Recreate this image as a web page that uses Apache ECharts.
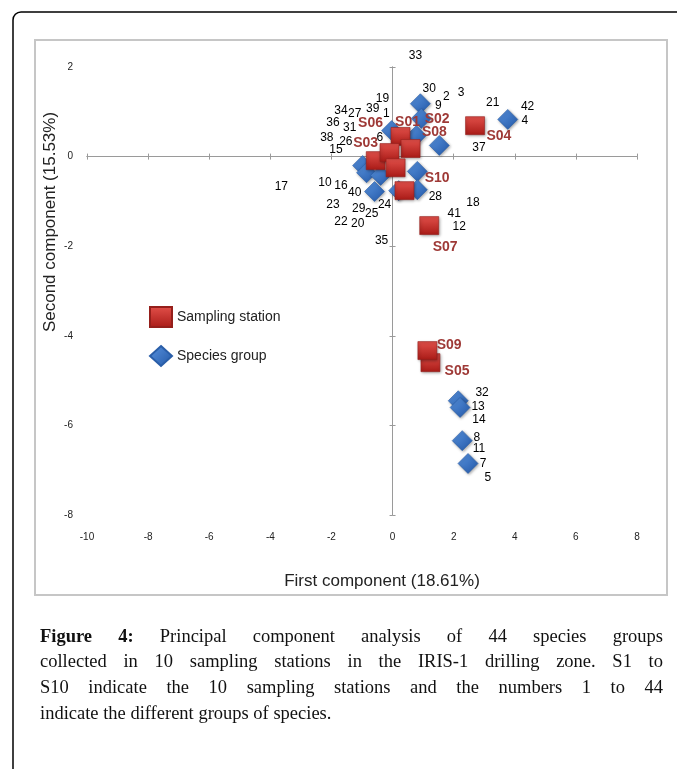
<!DOCTYPE html>
<html><head><meta charset="utf-8">
<script src="https://cdn.jsdelivr.net/npm/echarts@6/dist/echarts.min.js"></script>
<style>html,body{margin:0;padding:0;background:#fff}#c{width:677px;height:769px}</style>
</head><body><div id="c"></div>
<script>
// ---- data ----
const xMin = -10, xMax = 8, xStep = 2;
const yMin = -8, yMax = 2, yStep = 2;

// visible species-group markers (diamonds)
const groupX = [0.91, 0.94, 3.77, -0.03, 0.78, 1.53, -0.98, -0.85, -0.39, 0.81, -0.59, 0.81, 0.20, 2.15, 2.21, 2.28, 2.47];
const groupY = [1.18, 0.85, 0.83, 0.58, 0.47, 0.25, -0.20, -0.36, -0.42, -0.33, -0.78, -0.74, -0.76, -5.45, -5.60, -6.34, -6.85];

// species-group number labels
const speciesIds =    ['1','2','3','4','5','6','7','8','9','10','11','12','13','14','15','16','17','18','19','20','21','22','23','24','25','26','27','28','29','30','31','32','33','34','35','36','37','38','39','40','41','42'];
const speciesLabelX = [-0.20,1.76,2.24,4.33,3.12,-0.42,2.96,2.76,1.50,-2.21,2.83,2.18,2.80,2.83,-1.85,-1.69,-3.64,2.63,-0.33,-1.14,3.28,-1.69,-1.95,-0.26,-0.68,-1.53,-1.24,1.40,-1.11,1.20,-1.40,2.93,0.75,-1.69,-0.36,-1.95,2.83,-2.15,-0.65,-1.24,2.02,4.42];
const speciesLabelY = [0.96,1.34,1.43,0.80,-7.17,0.42,-6.85,-6.27,1.14,-0.58,-6.52,-1.56,-5.58,-5.87,0.16,-0.65,-0.67,-1.03,1.29,-1.50,1.21,-1.45,-1.07,-1.07,-1.27,0.33,0.96,-0.89,-1.16,1.52,0.65,-5.27,2.25,1.03,-1.88,0.76,0.20,0.42,1.07,-0.80,-1.27,1.12];

// sampling stations (squares)
const stationNames  = ['S01','S02','S03','S04','S05','S06','S07','S08','S09','S10'];
const stationX      = [0.26, 0.59, -0.55, 2.70, 1.24, -0.10, 1.20, 0.10, 1.14, 0.39];
const stationY      = [0.45, 0.18, -0.09, 0.69, -4.60, 0.09, -1.54, -0.25, -4.33, -0.76];
const stationLabelX = [0.49, 1.46, -0.88, 3.48, 2.11, -0.72, 1.72, 1.37, 1.85, 1.46];
const stationLabelY = [0.78, 0.83, 0.29, 0.45, -4.78, 0.74, -2.01, 0.54, -4.20, -0.49];

const xTitle = 'First component (18.61%)';
const yTitle = 'Second component (15.53%)';
const legendNames = ['Sampling station', 'Species group'];
const captionLines = [
  'Figure 4: Principal component analysis of 44 species groups',
  'collected in 10 sampling stations in the IRIS-1 drilling zone. S1 to',
  'S10 indicate the 10 sampling stations and the numbers 1 to 44',
  'indicate the different groups of species.'
];

// ---- chart ----
const chart = echarts.init(document.getElementById('c'), null, {renderer: 'canvas'});
const LG = echarts.graphic.LinearGradient;
const sans = "'Liberation Sans', Arial, sans-serif";
const serif = "'Liberation Serif', 'DejaVu Serif', serif";

// justified caption built from word measurements
const mctx = document.createElement('canvas').getContext('2d');
function fontStr(bold) { return (bold ? 'bold ' : '') + '18.5px ' + serif; }
function measure(w, bold) { mctx.font = fontStr(bold); return mctx.measureText(w).width; }
const capLeft = 40, capRight = 663, capTop = 637, capLineH = 25.6;
const captionGraphics = [];
captionLines.forEach((line, li) => {
  const words = line.split(' ');
  const bolds = words.map((w, wi) => li === 0 && wi < 2);
  const widths = words.map((w, wi) => measure(w, bolds[wi]));
  const total = widths.reduce((a, b) => a + b, 0);
  const last = li === captionLines.length - 1;
  const gap = last ? measure(' ', false) : (capRight - capLeft - total) / (words.length - 1);
  let x = capLeft;
  words.forEach((w, wi) => {
    captionGraphics.push({
      type: 'text', x: x, y: capTop + li * capLineH,
      style: {text: w, font: fontStr(bolds[wi]), fill: '#111', verticalAlign: 'middle', align: 'left'}
    });
    x += widths[wi] + gap;
  });
});

const axisGray = '#9a9a9a';
function lineAxis(pos) {
  return {type: 'value', position: pos,
    axisLine: {show: true, onZero: true, onZeroAxisIndex: 0, lineStyle: {color: axisGray, width: 1}},
    axisTick: {show: true, length: 3, lineStyle: {color: axisGray}}, axisLabel: {show: false}, splitLine: {show: false}};
}
const option = {
  animation: false,
  backgroundColor: '#fff',
  grid: {left: 87, top: 67, width: 550, height: 448},
  xAxis: [
    {type: 'value', min: xMin, max: xMax, interval: xStep, position: 'bottom',
     axisLine: {show: false, onZero: false}, axisTick: {show: false}, splitLine: {show: false},
     axisLabel: {margin: 17, fontSize: 10, color: '#222', fontFamily: sans}},
    Object.assign(lineAxis('top'), {min: xMin, max: xMax, interval: xStep}),
    Object.assign(lineAxis('bottom'), {min: xMin, max: xMax, interval: xStep})
  ],
  yAxis: [
    {type: 'value', min: yMin, max: yMax, interval: yStep, position: 'left',
     axisLine: {show: false, onZero: false}, axisTick: {show: false}, splitLine: {show: false},
     axisLabel: {margin: 14, fontSize: 10, color: '#222', fontFamily: sans}},
    Object.assign(lineAxis('right'), {min: yMin, max: yMax, interval: yStep}),
    Object.assign(lineAxis('left'), {min: yMin, max: yMax, interval: yStep})
  ],
  legend: {
    orient: 'vertical', left: 144, top: 301, itemWidth: 22, itemHeight: 20, itemGap: 17,
    data: [{name: legendNames[0], icon: 'rect'}, {name: legendNames[1], icon: 'diamond'}],
    textStyle: {fontSize: 14, color: '#222', fontFamily: sans}
  },
  graphic: [
    {type: 'rect', z: -10, shape: {x: 13, y: 12, width: 720, height: 800, r: 8},
     style: {fill: 'none', stroke: '#000', lineWidth: 1.5}},
    {type: 'rect', z: -10, shape: {x: 35, y: 40, width: 632, height: 555},
     style: {fill: 'none', stroke: '#c6c6c6', lineWidth: 2}},
    {type: 'text', x: 382, y: 581, style: {text: xTitle, font: '17px ' + sans, fill: '#222', align: 'center', verticalAlign: 'middle'}},
    {type: 'text', x: 50, y: 222, rotation: Math.PI / 2, style: {text: yTitle, font: '17px ' + sans, fill: '#222', align: 'center', verticalAlign: 'middle'}}
  ].concat(captionGraphics),
  series: [
    {name: legendNames[1], type: 'scatter', symbol: 'diamond', symbolSize: 20, z: 2,
     data: groupX.map((x, i) => [x, groupY[i]]),
     itemStyle: {opacity: 1, color: new LG(0, 0, 1, 1, [{offset: 0, color: '#5a94e0'}, {offset: 1, color: '#2257a6'}]),
                 borderColor: '#2a5ea8', borderWidth: 0.6, shadowBlur: 3, shadowColor: 'rgba(0,0,0,0.35)', shadowOffsetX: 1, shadowOffsetY: 1}},
    {name: legendNames[0], type: 'scatter', symbol: 'rect', symbolSize: [19, 18], z: 3,
     data: stationX.map((x, i) => [x, stationY[i]]),
     itemStyle: {opacity: 1, color: new LG(0, 0, 0, 1, [{offset: 0, color: '#e2504a'}, {offset: 1, color: '#a91b17'}]),
                 borderColor: '#951f1b', borderWidth: 0.6, shadowBlur: 3, shadowColor: 'rgba(0,0,0,0.35)', shadowOffsetX: 1, shadowOffsetY: 1}},
    {type: 'scatter', symbolSize: 1, z: 4, silent: true, clip: false,
     data: speciesIds.map((id, i) => [speciesLabelX[i], speciesLabelY[i], id]),
     itemStyle: {color: 'rgba(0,0,0,0)', opacity: 1},
     label: {show: true, position: 'inside', formatter: p => p.data[2], fontSize: 12, color: '#000', opacity: 1, fontFamily: sans}},
    {type: 'scatter', symbolSize: 1, z: 5, silent: true, clip: false,
     data: stationNames.map((n, i) => [stationLabelX[i], stationLabelY[i], n]),
     itemStyle: {color: 'rgba(0,0,0,0)', opacity: 1},
     label: {show: true, position: 'inside', formatter: p => p.data[2], fontSize: 14, fontWeight: 'bold', color: '#9e3936', opacity: 1, fontFamily: sans}}
  ]
};
chart.setOption(option);
</script></body></html>
